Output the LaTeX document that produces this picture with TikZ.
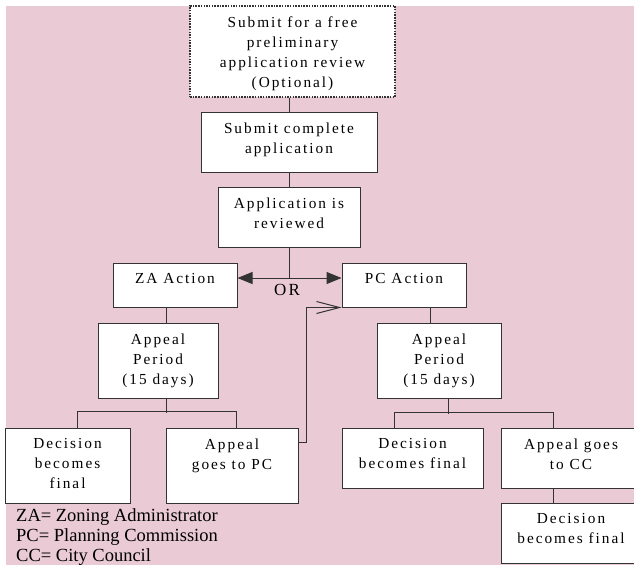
\documentclass[tikz,border=0pt]{standalone}
\usepackage{fontspec}
\setmainfont{Liberation Serif}
\newfontfamily\boxfont[LetterSpace=13]{Liberation Serif}
\usetikzlibrary{arrows.meta}

\definecolor{permitpink}{RGB}{233,202,213}
\definecolor{linegray}{RGB}{51,51,51}
% text hangs from the top of each box
\newcommand{\boxlines}[3]{\parbox[c][#2][t]{#1}{\centering\vspace{10.5pt}#3}}

\tikzset{
  stepnode/.style={draw=linegray, line width=1pt, fill=white, inner sep=0pt,
    font=\boxfont\fontsize{15.3}{20}\selectfont},
  optnode/.style={stepnode, line width=1.5pt, dash pattern=on 1.5pt off 1.2pt},
  link/.style={draw=linegray, line width=1pt}
}

\begin{document}
\begin{tikzpicture}[x=1pt, y=-1pt]
  \clip (0,0) rectangle (634,566);
  \fill[permitpink] (5.5,5.5) rectangle (640,564.5);

  \node[optnode] (prelim) at (292.5,51.5) {\boxlines{205pt}{91pt}{Submit for a free\\preliminary\\application review\\(Optional)}};
  \node[stepnode] (submit) at (289,142) {\boxlines{176pt}{60pt}{Submit complete\\application}};
  \node[stepnode] (review) at (289,217) {\boxlines{142pt}{60pt}{Application is\\reviewed}};
  \node[stepnode] (za) at (175,285) {\boxlines{124pt}{44pt}{ZA Action}};
  \node[stepnode] (pc) at (404,285) {\boxlines{124pt}{44pt}{PC Action}};
  \node[stepnode] (zaperiod) at (158,360.5) {\boxlines{120pt}{75pt}{Appeal\\Period\\(15 days)}};
  \node[stepnode] (pcperiod) at (439,360.5) {\boxlines{124pt}{75pt}{Appeal\\Period\\(15 days)}};
  \node[stepnode] (zafinal) at (67.5,465.5) {\boxlines{125pt}{75pt}{Decision\\becomes\\final}};
  \node[stepnode] (topc) at (232,465.5) {\boxlines{132pt}{75pt}{Appeal\\goes to PC}};
  \node[stepnode] (pcfinal) at (412.5,458) {\boxlines{141pt}{60pt}{Decision\\becomes final}};
  \node[stepnode] (tocc) at (571,458) {\boxlines{140pt}{60pt}{Appeal goes\\to CC}};
  \node[stepnode] (ccfinal) at (571,533) {\boxlines{140pt}{60pt}{Decision\\becomes final}};

  \node[anchor=base, font=\boxfont\fontsize{17}{20}\selectfont] (orlabel) at (287,295) {OR};
  \node[anchor=north west, align=left, inner sep=0pt, font=\fontsize{18.5}{20}\selectfont] (legend) at (16,508.4)
    {ZA= Zoning Administrator\\PC= Planning Commission\\CC= City Council};

  \draw[link] (submit.north) -- (submit.north |- prelim.south);
  \draw[link] (submit.south) -- (review.north);
  \draw[link, {Triangle[length=15pt,width=12pt]}-{Triangle[length=15pt,width=12pt]}]
    ([yshift=7pt]za.east) -- ([yshift=7pt]pc.west);
  \draw[link] (review.south) -- (review.south |- 0,278);
  \draw[link] ([xshift=-9pt]za.south) -- ([xshift=8pt]zaperiod.north);
  \draw[link] ([xshift=26pt]pc.south) -- ([xshift=-9pt]pcperiod.north);

  \draw[link] ([xshift=8pt]zaperiod.south) -- ++(0,14);
  \draw[link] ([xshift=9.5pt]zafinal.north) -- ++(0,-16) -| ([xshift=4pt]topc.north);
  \draw[link] ([xshift=9pt]pcperiod.south) -- ++(0,15);
  \draw[link] ([xshift=-18.5pt]pcfinal.north) -- ++(0,-15) -| ([xshift=-18pt]tocc.north);
  \draw[link] ([xshift=-18pt]tocc.south) -- ([xshift=-18pt]ccfinal.north);

  \draw[link, -{Straight Barb[length=23pt,width=12pt]}]
    ([yshift=23.5pt]topc.east) -| ([xshift=-35pt]pc.south west) -- (pc.south west);
\end{tikzpicture}
\end{document}
